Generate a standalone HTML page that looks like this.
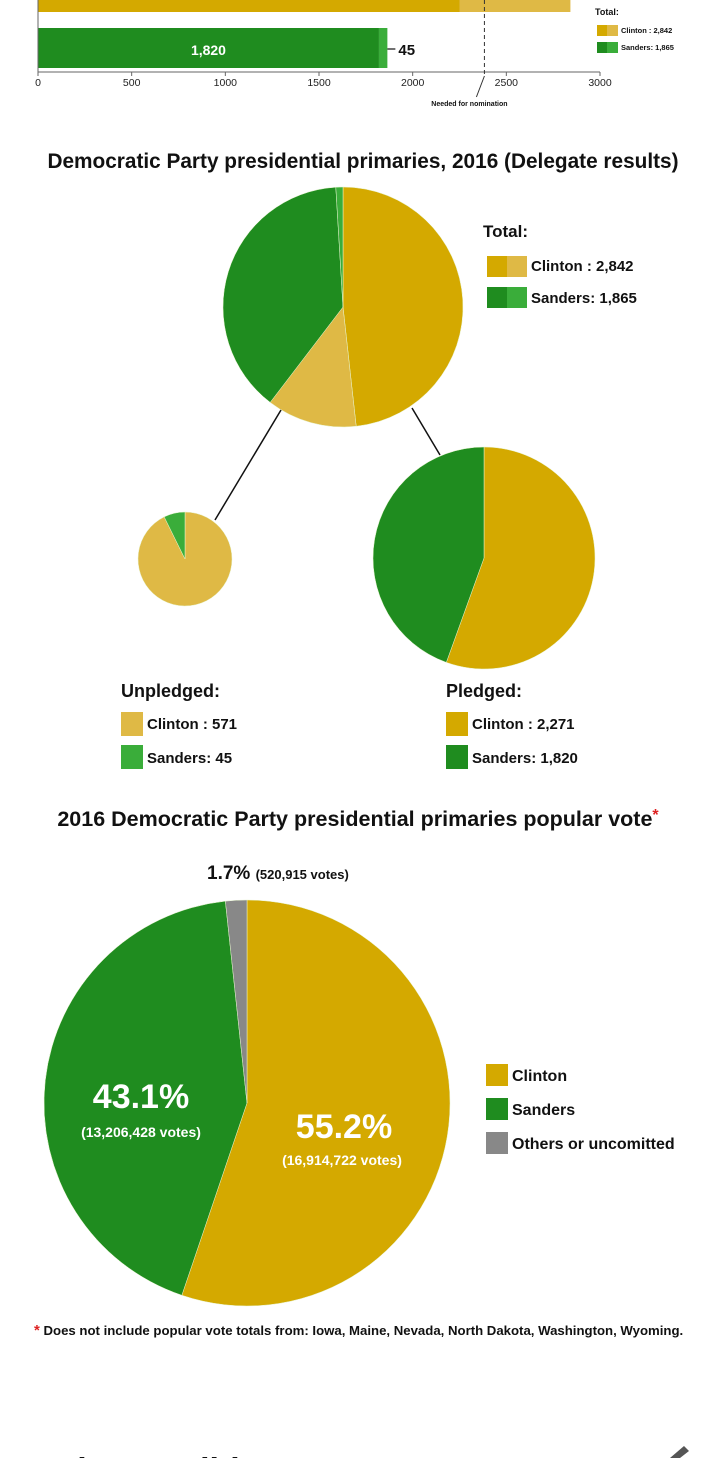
<!DOCTYPE html>
<html><head><meta charset="utf-8"><style>
body{margin:0;width:720px;height:1458px;overflow:hidden;background:#fff;font-family:"Liberation Sans",sans-serif}
svg{display:block}
</style></head><body>
<svg width="720" height="1458" viewBox="0 0 720 1458" font-family="Liberation Sans, sans-serif">
<g id="bars"></g>
<text x="363" y="168" text-anchor="middle" font-size="20.8" font-weight="bold" fill="#111">Democratic Party presidential primaries, 2016 (Delegate results)</text>
<g id="pies"></g>
<line x1="281" y1="410" x2="215" y2="520" stroke="#111" stroke-width="1.5"/>
<line x1="412" y1="408" x2="440" y2="455" stroke="#111" stroke-width="1.5"/>
<g font-size="15" font-weight="bold" fill="#111">
<text x="483" y="237" font-size="17">Total:</text>
<rect x="487" y="256" width="20" height="21" fill="#d4a900"/><rect x="507" y="256" width="20" height="21" fill="#dfb945"/>
<text x="531" y="271">Clinton : 2,842</text>
<rect x="487" y="287" width="20" height="21" fill="#1f8c1f"/><rect x="507" y="287" width="20" height="21" fill="#3aad3a"/>
<text x="531" y="303">Sanders: 1,865</text>
</g>
<g font-size="15" font-weight="bold" fill="#111">
<text x="121" y="697" font-size="18">Unpledged:</text>
<rect x="121" y="712" width="22" height="24" fill="#dfb945"/><text x="147" y="729">Clinton : 571</text>
<rect x="121" y="745" width="22" height="24" fill="#3aad3a"/><text x="147" y="763">Sanders: 45</text>
</g>
<g font-size="15" font-weight="bold" fill="#111">
<text x="446" y="697" font-size="18">Pledged:</text>
<rect x="446" y="712" width="22" height="24" fill="#d4a900"/><text x="472" y="729">Clinton : 2,271</text>
<rect x="446" y="745" width="22" height="24" fill="#1f8c1f"/><text x="472" y="763">Sanders: 1,820</text>
</g>
<text x="358" y="826" text-anchor="middle" font-size="21.5" font-weight="bold" fill="#111">2016 Democratic Party presidential primaries popular vote<tspan fill="#d22" dy="-6" font-size="16">*</tspan></text>
<g id="pop"></g>
<text x="207" y="879" font-size="19" font-weight="bold" fill="#111">1.7% <tspan font-size="13">(520,915 votes)</tspan></text>
<text x="141" y="1108" text-anchor="middle" font-size="34" font-weight="bold" fill="#fff">43.1%</text>
<text x="141" y="1137" text-anchor="middle" font-size="14" font-weight="bold" fill="#fff">(13,206,428 votes)</text>
<text x="344" y="1138" text-anchor="middle" font-size="34" font-weight="bold" fill="#fff">55.2%</text>
<text x="342" y="1165" text-anchor="middle" font-size="14" font-weight="bold" fill="#fff">(16,914,722 votes)</text>
<g font-size="16" font-weight="bold" fill="#111">
<rect x="486" y="1064" width="22" height="22" fill="#d4a900"/><text x="512" y="1081">Clinton</text>
<rect x="486" y="1098" width="22" height="22" fill="#1f8c1f"/><text x="512" y="1115">Sanders</text>
<rect x="486" y="1132" width="22" height="22" fill="#888"/><text x="512" y="1149">Others or uncomitted</text>
</g>
<text x="34" y="1335" font-size="13.2" font-weight="bold" fill="#111"><tspan fill="#d22" font-size="15">*</tspan> Does not include popular vote totals from: Iowa, Maine, Nevada, North Dakota, Washington, Wyoming.</text>
<text x="30" y="1482" font-size="34" font-weight="bold" fill="#111">Major candidates</text>
<path d="M670 1458 L684 1446 L689 1451 L680 1458Z" fill="#555"/>
</svg>
<script>
const NS="http://www.w3.org/2000/svg";
function mk(p,t,a){const e=document.createElementNS(NS,t);for(const k in a)e.setAttribute(k,a[k]);p.appendChild(e);return e;}
// bar chart data
const barTicks=[0,500,1000,1500,2000,2500,3000];
const clintonBar=[2250,592];
const sandersBar=[1820,45];
const neededValue=2383;
const bx=v=>38+v*(562/3000);
const bars=document.getElementById('bars');
let c1=mk(bars,'rect',{x:bx(0),y:-30,width:bx(clintonBar[0])-bx(0),height:42,fill:'#d4a900'});

let c2=mk(bars,'rect',{x:bx(clintonBar[0]),y:-30,width:bx(clintonBar[0]+clintonBar[1])-bx(clintonBar[0]),height:42,fill:'#dfb945'});

let s1=mk(bars,'rect',{x:bx(0),y:28,width:bx(sandersBar[0])-bx(0),height:40,fill:'#1f8c1f'});

let s2=mk(bars,'rect',{x:bx(sandersBar[0]),y:28,width:bx(sandersBar[0]+sandersBar[1])-bx(sandersBar[0]),height:40,fill:'#3aad3a'});

let t=mk(bars,'text',{x:bx(sandersBar[0]/2),y:55,'text-anchor':'middle','font-size':14,'font-weight':'bold',fill:'#fff'});t.textContent=sandersBar[0].toLocaleString('en-US');

const ex=bx(sandersBar[0]+sandersBar[1]);
mk(bars,'line',{x1:ex,y1:49,x2:ex+8,y2:49,stroke:'#111','stroke-width':1.2});
t=mk(bars,'text',{x:ex+11,y:55,'font-size':15,'font-weight':'bold',fill:'#111'});t.textContent=sandersBar[1];

let ax=mk(bars,'line',{x1:bx(0),y1:72,x2:bx(3000),y2:72,stroke:'#666','stroke-width':1});

mk(bars,'line',{x1:bx(0),y1:0,x2:bx(0),y2:72,stroke:'#666','stroke-width':1});
barTicks.forEach(v=>{mk(bars,'line',{x1:bx(v),y1:72,x2:bx(v),y2:76,stroke:'#666'});
 const tt=mk(bars,'text',{x:bx(v),y:86,'text-anchor':'middle','font-size':10.5,fill:'#222'});tt.textContent=v;
 });
const nx=bx(neededValue);
let nl=mk(bars,'line',{x1:nx,y1:0,x2:nx,y2:76,stroke:'#333','stroke-dasharray':'4,3'});

mk(bars,'line',{x1:nx,y1:76,x2:nx-8,y2:97,stroke:'#333'});
t=mk(bars,'text',{x:nx-15,y:106,'text-anchor':'middle','font-size':7,'font-weight':'bold',fill:'#111'});t.textContent='Needed for nomination';

const lg=[['#d4a900','#dfb945','Clinton : 2,842',31],['#1f8c1f','#3aad3a','Sanders: 1,865',48]];
t=mk(bars,'text',{x:595,y:15,'font-size':9,'font-weight':'bold',fill:'#111'});t.textContent='Total:';

lg.forEach(l=>{mk(bars,'rect',{x:597,y:l[3]-6,width:10,height:11,fill:l[0]});mk(bars,'rect',{x:607,y:l[3]-6,width:11,height:11,fill:l[1]});
 const tt=mk(bars,'text',{x:621,y:l[3]+2,'font-size':7.5,'font-weight':'bold',fill:'#111'});tt.textContent=l[2];
 });
function pie(g,cx,cy,r,vals,cols,names){const tot=vals.reduce((a,b)=>a+b,0);let a=0;
 vals.forEach((v,i)=>{const a0=a/tot*2*Math.PI;a+=v;const a1=a/tot*2*Math.PI;
  const x0=cx+r*Math.sin(a0),y0=cy-r*Math.cos(a0),x1=cx+r*Math.sin(a1),y1=cy-r*Math.cos(a1);
  const lg=(a1-a0)>Math.PI?1:0;
  const p=mk(g,'path',{d:`M${cx},${cy}L${x0},${y0}A${r},${r} 0 ${lg} 1 ${x1},${y1}Z`,fill:cols[i],stroke:'#e8f5d0','stroke-width':0.5});
  
  });}
const totalVals=[2271,571,1820,45];
const unpledgedVals=[571,45];
const pledgedVals=[2271,1820];
const popularVals=[55.2,43.1,1.7];
const pg=document.getElementById('pies');
pie(pg,343,307,120,totalVals,['#d4a900','#dfb945','#1f8c1f','#3aad3a'],['slice-clinton-pledged','slice-clinton-unpledged','slice-sanders-pledged','slice-sanders-unpledged']);
pie(pg,185,559,47,unpledgedVals,['#dfb945','#3aad3a'],['slice-clinton-unpledged','slice-sanders-unpledged']);
pie(pg,484,558,111,pledgedVals,['#d4a900','#1f8c1f'],['slice-clinton-pledged','slice-sanders-pledged']);
pie(document.getElementById('pop'),247,1103,203,popularVals,['#d4a900','#1f8c1f','#888'],['slice-clinton','slice-sanders','slice-others']);
</script>
</body></html>
